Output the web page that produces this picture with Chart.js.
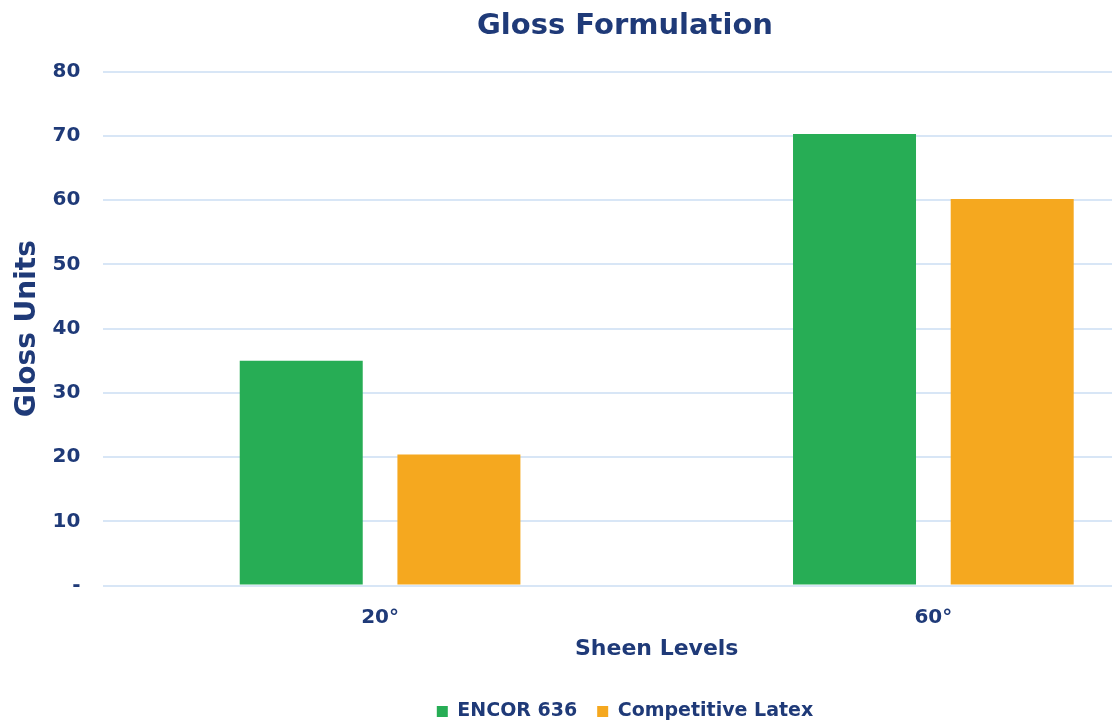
<!DOCTYPE html>
<html>
<head>
<meta charset="utf-8">
<script src="https://cdn.jsdelivr.net/npm/chart.js@4"></script>
<style>
  html, body { margin: 0; padding: 0; background: #fff; overflow: hidden; width: 1112px; height: 721px; }
  #glossChart { display: block; }
</style>
</head>
<body>
<canvas id="glossChart" width="1250" height="721"></canvas>
<script>
const categories = ["20°", "60°"];
const encorValues = [35, 70.3];
const competitiveValues = [20.4, 60.2];
const seriesNames = ["ENCOR 636", "Competitive Latex"];

const navy = "#1f3a78";
const fontFamily = "'DejaVu Sans', Verdana, sans-serif";

const glossCtx = document.getElementById("glossChart");

new Chart(glossCtx, {
    type: "bar",
    data: {
        labels: categories,
        datasets: [{
            label: seriesNames[0],
            data: encorValues,
            backgroundColor: "#27ad55"
        }, {
            label: seriesNames[1],
            data: competitiveValues,
            backgroundColor: "#f5a81f"
        }]
    },
    options: {
        responsive: false,
        animation: false,
        datasets: {
            bar: { categoryPercentage: 0.57, barPercentage: 0.78 }
        },
        // the picture is cut off on the right, so the canvas is wider than the page
        layout: { padding: { left: 0, right: 0, top: 0, bottom: -10 } },
        plugins: {
            title: {
                display: true,
                text: "Gloss Formulation",
                color: navy,
                font: { family: fontFamily, size: 29, weight: "bold" },
                padding: { top: 9, bottom: 28 }
            },
            legend: {
                position: "bottom",
                labels: {
                    color: navy,
                    font: { family: fontFamily, size: 19, weight: "bold" },
                    boxWidth: 11,
                    boxHeight: 11,
                    padding: 20
                }
            },
            tooltip: { enabled: false }
        },
        scales: {
            x: {
                grid: { display: false, drawTicks: false },
                border: { display: false },
                ticks: {
                    color: navy,
                    font: { family: fontFamily, size: 20, weight: "bold" },
                    padding: 20
                },
                title: {
                    display: true,
                    text: "Sheen Levels",
                    color: navy,
                    font: { family: fontFamily, size: 22, weight: "bold" },
                    padding: { top: -14, bottom: 20 }
                }
            },
            y: {
                min: 0,
                max: 80,
                border: { display: false },
                grid: { color: "#d8e6f6", lineWidth: 2, drawTicks: false },
                ticks: {
                    stepSize: 10,
                    color: navy,
                    font: { family: fontFamily, size: 20, weight: "bold" },
                    padding: 23,
                    callback: v => v === 0 ? "-" : v
                },
                title: {
                    display: true,
                    text: "Gloss Units",
                    color: navy,
                    font: { family: fontFamily, size: 28, weight: "bold" },
                    padding: { top: 11, bottom: -15 }
                }
            },
            // empty space on the right of the plot
            yRight: {
                position: "right",
                display: true,
                grid: { display: false },
                border: { display: false },
                ticks: { display: false },
                afterFit: scale => { scale.width = 40; }
            }
        }
    }
});
</script>
</body>
</html>
